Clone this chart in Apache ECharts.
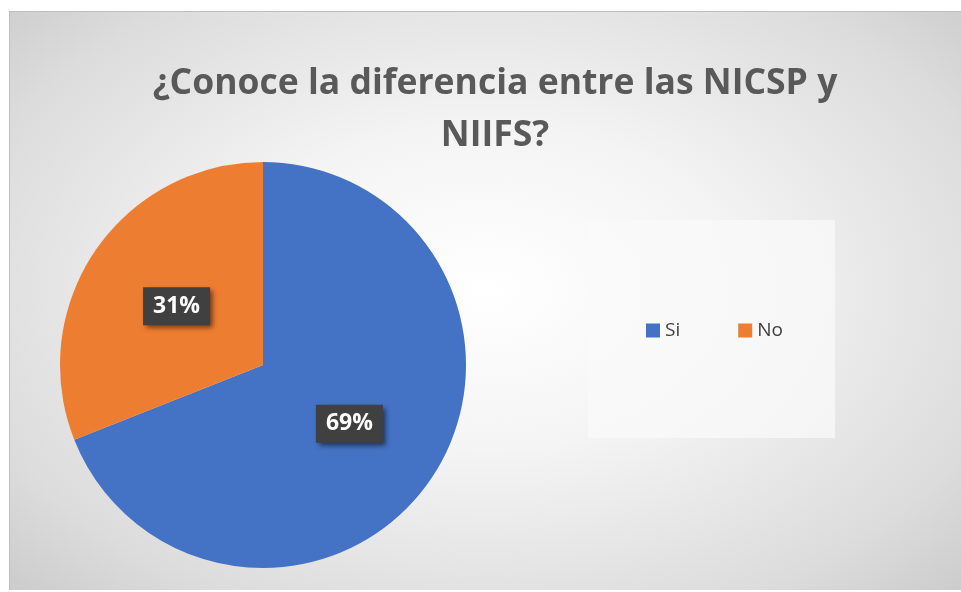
<!DOCTYPE html>
<html><head><meta charset="utf-8">
<script src="https://cdn.jsdelivr.net/npm/echarts@6/dist/echarts.min.js"></script>
<style>
html,body{margin:0;padding:0;background:#fff;}
#frame{position:absolute;left:9px;top:11px;width:952px;height:579px;box-sizing:border-box;border-top:1px solid #bfbfbf;border-left:1px solid #bfbfbf;
background:radial-gradient(ellipse 75% 80% at 50% 48%, #ffffff 0%, #f4f4f4 35%, #dcdcdc 75%, #c6c6c6 100%);}
#chart{position:absolute;left:0;top:0;width:961px;height:592px;}
</style></head>
<body>
<div id="frame"></div>
<div id="chart"></div>
<script>
const titleLines = ['¿Conoce la diferencia entre las NICSP y', 'NIIFS?'];
const categories = ['Si', 'No'];
const values = [69, 31];
const colors = ['#4472C4', '#ED7D31'];

const chart = echarts.init(document.getElementById('chart'));
chart.setOption({
  backgroundColor: 'transparent',
  animation: false,
  title: {
    text: titleLines.join('\n'),
    left: 490, textAlign: 'center', top: 53,
    textStyle: {fontFamily: 'Open Sans', fontWeight: 'bold', fontSize: 35.5, lineHeight: 52, color: '#595959'}
  },
  graphic: [{
    type: 'rect', shape: {x: 588, y: 220, width: 247, height: 218},
    style: {fill: 'rgba(250,250,250,0.75)'}, z: 0
  }],
  legend: {
    data: categories, left: 641, top: 316, icon: 'rect', itemWidth: 14, itemHeight: 14, itemGap: 58,
    textStyle: {fontFamily: 'Open Sans', fontSize: 19, color: '#404040'}
  },
  series: [{
    type: 'pie', center: [263, 365], radius: 203, startAngle: 90, clockwise: true,
    data: categories.map((c, i) => ({name: c, value: values[i], itemStyle: {color: colors[i]}})),
    label: {
      position: 'inside', formatter: '{d}%', fontFamily: 'Open Sans', fontWeight: 'bold', fontSize: 23, color: '#ffffff',
      backgroundColor: '#404040', padding: [8, 10, 7, 10],
      shadowColor: 'rgba(0,0,0,0.55)', shadowBlur: 5, shadowOffsetX: 3, shadowOffsetY: 3
    },
    labelLine: {show: false},
    emphasis: {disabled: true}
  }]
});
</script>
</body></html>
